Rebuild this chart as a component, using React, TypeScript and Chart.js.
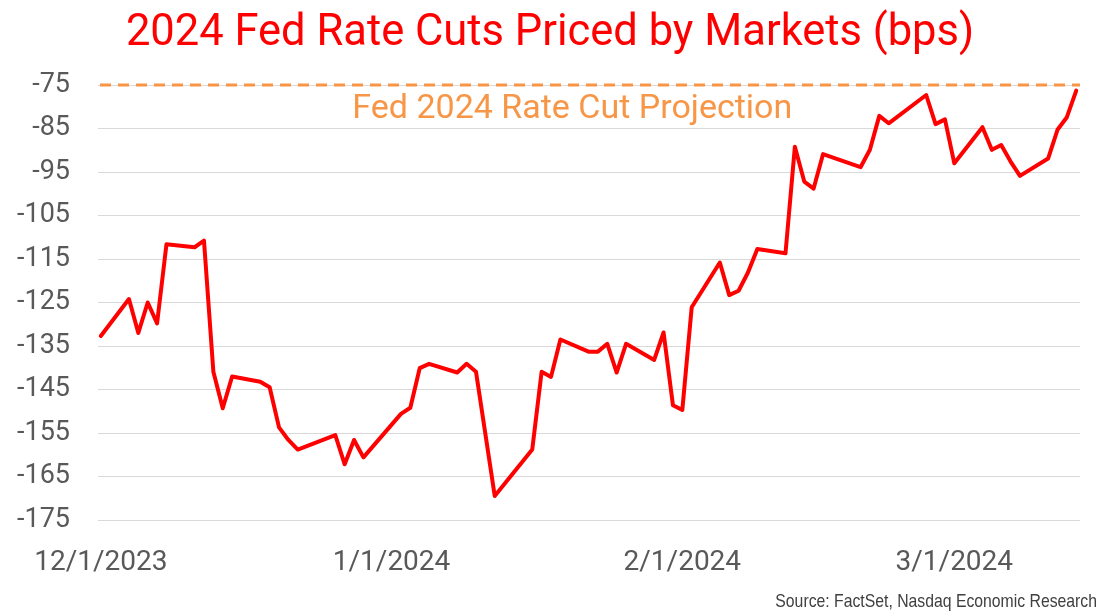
import React, { useEffect, useRef } from "react";
import { Chart, registerables } from "chart.js";

Chart.register(...registerables);

const TITLE = "2024 Fed Rate Cuts Priced by Markets (bps)";
const PROJECTION_LABEL = "Fed 2024 Rate Cut Projection";
const SOURCE = "Source: FactSet, Nasdaq Economic Research";

const dates = [
  "2023-12-01", "2023-12-04", "2023-12-05", "2023-12-06", "2023-12-07", "2023-12-08",
  "2023-12-11", "2023-12-12", "2023-12-13", "2023-12-14", "2023-12-15",
  "2023-12-18", "2023-12-19", "2023-12-20", "2023-12-21", "2023-12-22",
  "2023-12-26", "2023-12-27", "2023-12-28", "2023-12-29",
  "2024-01-02", "2024-01-03", "2024-01-04", "2024-01-05",
  "2024-01-08", "2024-01-09", "2024-01-10", "2024-01-12",
  "2024-01-16", "2024-01-17", "2024-01-18", "2024-01-19",
  "2024-01-22", "2024-01-23", "2024-01-24", "2024-01-25", "2024-01-26",
  "2024-01-29", "2024-01-30", "2024-01-31", "2024-02-01", "2024-02-02",
  "2024-02-05", "2024-02-06", "2024-02-07", "2024-02-08", "2024-02-09",
  "2024-02-12", "2024-02-13", "2024-02-14", "2024-02-15", "2024-02-16",
  "2024-02-20", "2024-02-21", "2024-02-22", "2024-02-23",
  "2024-02-27", "2024-02-28", "2024-02-29", "2024-03-01",
  "2024-03-04", "2024-03-05", "2024-03-06", "2024-03-07", "2024-03-08",
  "2024-03-11", "2024-03-12", "2024-03-13", "2024-03-14",
];

const cutsPriced = [
  -132.7, -124.2, -132.0, -125.0, -129.8, -111.6,
  -112.3, -110.8, -140.9, -149.3, -142.0,
  -143.2, -144.5, -153.7, -156.6, -158.8,
  -155.5, -162.2, -156.6, -160.6,
  -150.6, -149.2, -140.1, -139.1,
  -141.1, -139.1, -140.9, -169.5,
  -158.8, -140.9, -142.1, -133.5,
  -136.3, -136.3, -134.5, -141.1, -134.5,
  -138.2, -131.9, -148.6, -149.7, -126.1,
  -115.8, -123.3, -122.3, -118.1, -112.7,
  -113.7, -89.2, -97.2, -98.8, -90.9,
  -93.9, -89.9, -82.1, -83.8,
  -77.3, -84.0, -82.9, -93.0,
  -84.7, -89.9, -88.8, -92.6, -95.9,
  -91.9, -85.3, -82.4, -76.3,
];

const projectionValue = -75;
const yTicks = [-175, -165, -155, -145, -135, -125, -115, -105, -95, -85, -75];
const xTickDates = ["2023-12-01", "2024-01-01", "2024-02-01", "2024-03-01"];
const xTickLabels = ["12/1/2023", "1/1/2024", "2/1/2024", "3/1/2024"];

const dayOf = (s: string) => {
  const [y, m, d] = s.split("-").map(Number);
  return (Date.UTC(y, m - 1, d) - Date.UTC(2023, 11, 1)) / 86400000;
};

export default function App() {
  const ref = useRef<HTMLCanvasElement | null>(null);

  useEffect(() => {
    if (!ref.current) return;
    const points = dates.map((d, i) => ({ x: dayOf(d), y: cutsPriced[i] }));
    const xTickDays = xTickDates.map(dayOf);

    const overlay = {
      id: "overlay",
      beforeDatasetsDraw(chart: any) {
        const { ctx, chartArea, scales } = chart;
        const y = scales.y.getPixelForValue(projectionValue);
        ctx.save();
        ctx.strokeStyle = "#F79646";
        ctx.lineWidth = 3;
        ctx.setLineDash([11, 7]);
        ctx.beginPath();
        ctx.moveTo(chartArea.left + 2, y);
        ctx.lineTo(chartArea.right, y);
        ctx.stroke();
        ctx.restore();
      },
      afterDraw(chart: any) {
        const { ctx, chartArea, scales } = chart;
        ctx.save();
        ctx.fillStyle = "#FF0000";
        ctx.font = "43.5px Roboto";
        ctx.textAlign = "center";
        ctx.textBaseline = "alphabetic";
        ctx.fillText(TITLE, 550, 45);

        const y = scales.y.getPixelForValue(projectionValue);
        ctx.fillStyle = "#F79646";
        ctx.font = "34px Roboto";
        ctx.fillText(PROJECTION_LABEL, chartArea.left + (chartArea.right - chartArea.left) * 0.483, y + 33);
        ctx.restore();

        ctx.save();
        ctx.fillStyle = "#404040";
        ctx.font = "19px 'Liberation Sans', Arial";
        ctx.textAlign = "right";
        ctx.textBaseline = "alphabetic";
        ctx.translate(1097, 607);
        ctx.scale(0.83, 1);
        ctx.fillText(SOURCE, 0, 0);
        ctx.restore();
      },
    };

    const chart = new Chart(ref.current, {
      type: "line",
      data: {
        datasets: [
          {
            data: points,
            borderColor: "#FF0000",
            borderWidth: 4,
            pointRadius: 0,
            tension: 0,
            borderJoinStyle: "round",
            borderCapStyle: "round",
          },
        ],
      },
      options: {
        animation: false,
        responsive: false,
        maintainAspectRatio: false,
        layout: { padding: { top: 85, right: 20, left: 0, bottom: 0 } },
        plugins: { legend: { display: false }, tooltip: { enabled: false }, title: { display: false } },
        scales: {
          x: {
            type: "linear",
            min: -0.3,
            max: 104.4,
            grid: { display: false },
            border: { display: false },
            afterBuildTicks: (scale: any) => {
              scale.ticks = xTickDays.map((v) => ({ value: v }));
            },
            afterFit: (scale: any) => {
              scale.height = 94;
            },
            ticks: {
              autoSkip: false,
              maxRotation: 0,
              padding: 18,
              color: "#595959",
              font: { family: "Roboto", size: 28 },
              callback: (v: any) => {
                const i = xTickDays.indexOf(Number(v));
                return i >= 0 ? xTickLabels[i] : "";
              },
            },
          },
          y: {
            min: -175,
            max: -75,
            afterBuildTicks: (scale: any) => {
              scale.ticks = yTicks.map((v) => ({ value: v }));
            },
            afterFit: (scale: any) => {
              scale.width = 98;
            },
            grid: { color: "#D9D9D9", lineWidth: 1, drawTicks: false },
            border: { display: false },
            ticks: {
              padding: 28,
              color: "#595959",
              font: { family: "Roboto", size: 27 },
              callback: (v: any) => String(v),
            },
          },
        },
      },
      plugins: [overlay],
    });
    return () => chart.destroy();
  }, []);

  return (
    <div style={{ position: "fixed", left: 0, top: 0, width: 1100, height: 614, background: "#fff" }}>
      <canvas ref={ref} width={1100} height={614} style={{ width: 1100, height: 614 }} />
    </div>
  );
}
